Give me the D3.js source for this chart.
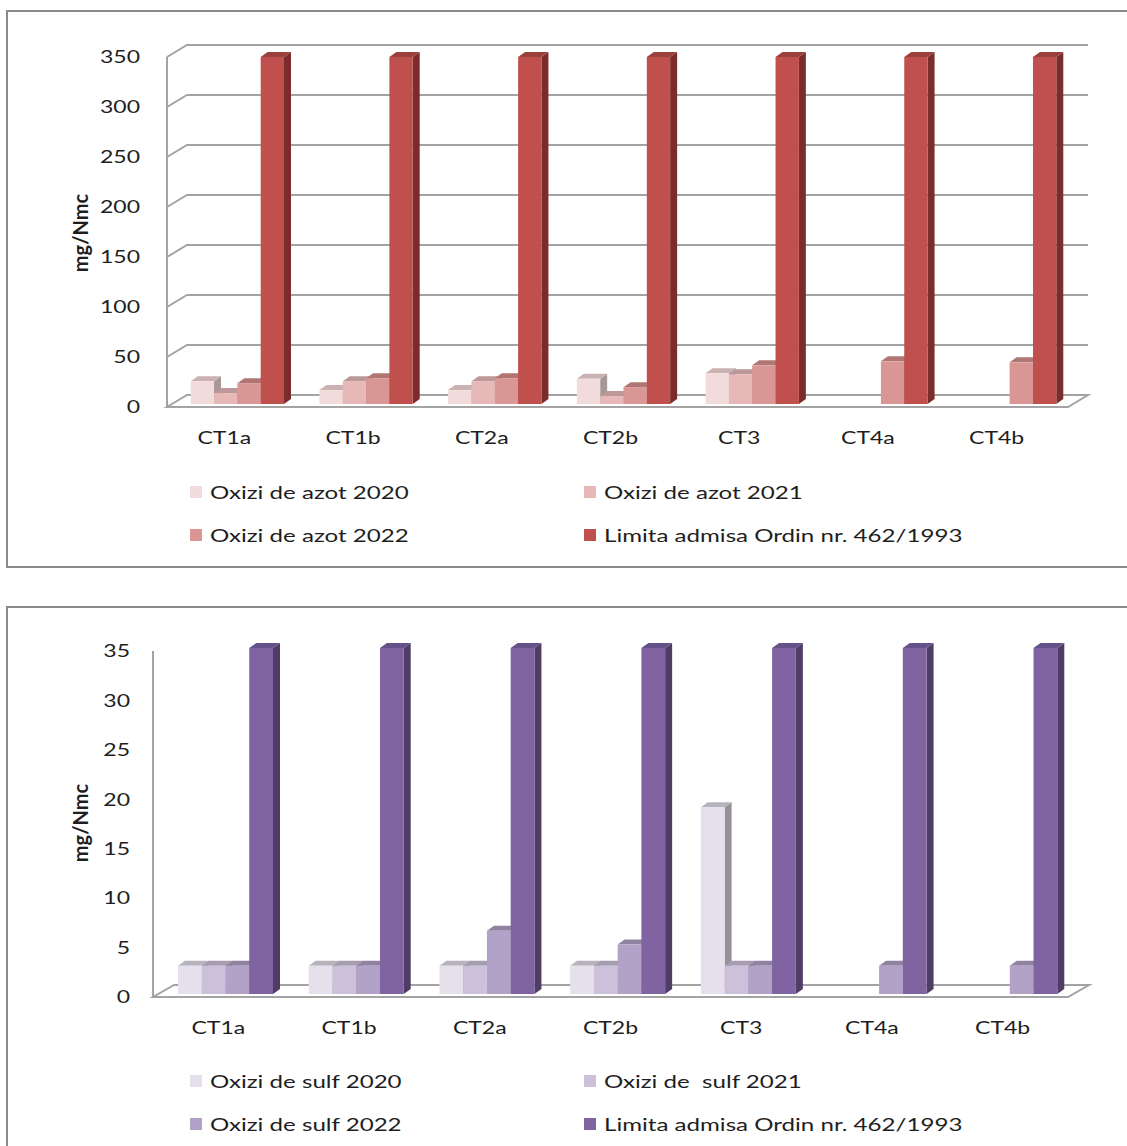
<!DOCTYPE html>
<html>
<head>
<meta charset="utf-8">
<script src="https://cdn.jsdelivr.net/npm/d3@7/dist/d3.min.js"></script>
<style>
html,body{margin:0;padding:0;background:#fff;}
svg{display:block;}
text{font-family:Lato,"Liberation Sans",sans-serif;fill:#1e1e1e;white-space:pre;}
</style>
</head>
<body>
<svg id="chart" width="1127" height="1146"></svg>
<script>
// ---------- data ----------
const categories = ["CT1a","CT1b","CT2a","CT2b","CT3","CT4a","CT4b"];

const noxSeries = ["Oxizi de azot 2020","Oxizi de azot 2021","Oxizi de azot 2022","Limita admisa Ordin nr. 462/1993"];
const nox2020 = [23, 14, 14, 25.5, 31, null, null];
const nox2021 = [11, 23, 23, 8, 30, null, null];
const nox2022 = [21, 26, 26, 17, 39, 43, 42];
const noxLimit = [350, 350, 350, 350, 350, 350, 350];
const noxTicks = [0, 50, 100, 150, 200, 250, 300, 350];

const soxSeries = ["Oxizi de sulf 2020","Oxizi de  sulf 2021","Oxizi de sulf 2022","Limita admisa Ordin nr. 462/1993"];
const sox2020 = [2.86, 2.86, 2.86, 2.86, 18.9, null, null];
const sox2021 = [2.86, 2.86, 2.86, 2.86, 2.86, null, null];
const sox2022 = [2.86, 2.86, 6.4, 5.0, 2.86, 2.86, 2.86];
const soxLimit = [35, 35, 35, 35, 35, 35, 35];
const soxTicks = [0, 5, 10, 15, 20, 25, 30, 35];

const yTitle = "mg/Nmc";

// ---------- style ----------
const SX = 1.28;      // horizontal stretch of axis text
const SX_LEG = 1.34;  // horizontal stretch of legend text
const noxColors = [
  {front:"#f2dcdb", top:"#c9b2b1", side:"#a69897"},
  {front:"#e6b9b8", top:"#bc9998", side:"#9f8584"},
  {front:"#d99694", top:"#b07674", side:"#93615f"},
  {front:"#c0504d", top:"#9c403d", side:"#7a2d2b"}
];
const soxColors = [
  {front:"#e5e0ec", top:"#b7b3bd", side:"#959199"},
  {front:"#ccc1da", top:"#a59cb0", side:"#8a8393"},
  {front:"#b3a2c7", top:"#9083a1", side:"#796d88"},
  {front:"#8064a2", top:"#67518a", side:"#4f3d66"}
];

const svg = d3.select("#chart");

function drawChart(cfg) {
  const g = svg.append("g");
  g.append("rect").attr("x", cfg.frame[0]).attr("y", cfg.frame[1])
    .attr("width", cfg.frame[2]).attr("height", cfg.frame[3])
    .attr("fill", "none").attr("stroke", "#8a8a8a").attr("stroke-width", 2);

  const maxV = d3.max(cfg.ticks);
  const yFront = d3.scaleLinear().domain([0, maxV]).range(cfg.yFront);
  const yBar = d3.scaleLinear().domain([0, maxV]).range(cfg.yBar);
  const xBand = d3.scaleBand().domain(categories).range([cfg.x0, cfg.x1]).paddingInner(0).paddingOuter(0);
  const xSeries = d3.scaleBand().domain(d3.range(cfg.series.length)).range(cfg.groupRange);
  const [dx, dy] = cfg.depth;
  const lineCol = "#a3a3a3";

  if (cfg.grid) {
    cfg.ticks.forEach(t => {
      if (t === 0) return;
      const yf = yFront(t);
      g.append("polyline")
        .attr("points", `${cfg.x0},${yf} ${cfg.x0+dx},${yf+dy} ${cfg.x1+dx},${yf+dy}`)
        .attr("fill", "none").attr("stroke", lineCol).attr("stroke-width", 2);
    });
  }
  g.append("line").attr("x1", cfg.x0).attr("x2", cfg.x0)
    .attr("y1", yFront(maxV)).attr("y2", yFront(0))
    .attr("stroke", lineCol).attr("stroke-width", 2);
  const y0 = yFront(0);
  g.append("polygon")
    .attr("points", `${cfg.x0},${y0} ${cfg.x0+dx},${y0+dy} ${cfg.x1+dx},${y0+dy} ${cfg.x1},${y0}`)
    .attr("fill", "#fff").attr("stroke", lineCol).attr("stroke-width", 2);

  const [bdx, bdy] = cfg.barDepth;
  const yb0 = yBar(0);
  categories.forEach((c, ci) => {
    cfg.values.forEach((vals, si) => {
      const v = vals[ci];
      if (v == null) return;
      const xl = xBand(c) + xSeries(si);
      const xr = xl + xSeries.bandwidth();
      const yt = yBar(v);
      const col = cfg.colors[si];
      g.append("polygon")
        .attr("points", `${xr},${yt} ${xr+bdx},${yt+bdy} ${xr+bdx},${yb0+bdy} ${xr},${yb0}`)
        .attr("fill", col.side);
      g.append("polygon")
        .attr("points", `${xl},${yt} ${xl+bdx},${yt+bdy} ${xr+bdx},${yt+bdy} ${xr},${yt}`)
        .attr("fill", col.top);
      g.append("rect").attr("x", xl).attr("y", yt)
        .attr("width", xr - xl).attr("height", yb0 - yt)
        .attr("fill", col.front);
    });
  });

  const yAxis = d3.axisLeft(yFront).tickValues(cfg.ticks).tickSize(0).tickPadding(0);
  const ya = g.append("g").attr("transform", `translate(${cfg.yLabelX},0)`).call(yAxis);
  ya.select(".domain").remove();
  ya.selectAll("text").attr("x", 0).attr("transform", `scale(${SX},1)`)
    .style("font-family", "Lato").style("font-size", "18px").attr("fill", "#1e1e1e");

  const xAxis = d3.axisBottom(xBand).tickSize(0).tickPadding(0);
  const xa = g.append("g").attr("transform", `translate(${cfg.xLabelDx},${cfg.xLabelY})`).call(xAxis);
  xa.select(".domain").remove();
  xa.selectAll("text").attr("y", 0).attr("dy", "0.35em").attr("transform", `scale(${SX},1)`)
    .style("font-family", "Lato").style("font-size", "18px").attr("fill", "#1e1e1e");

  g.append("text")
    .attr("transform", `translate(${cfg.titlePos[0]},${cfg.titlePos[1]}) rotate(-90)`)
    .attr("text-anchor", "middle").attr("dominant-baseline", "central")
    .style("font-size", "20px").style("font-weight", "bold")
    .text(yTitle);

  cfg.series.forEach((s, i) => {
    const col = i % 2, row = Math.floor(i / 2);
    const lx = cfg.legendX[col], ly = cfg.legendY[row];
    g.append("rect").attr("x", lx).attr("y", ly - 6).attr("width", 12).attr("height", 12)
      .attr("fill", cfg.colors[i].front);
    g.append("g").attr("transform", `translate(${lx + 20},${ly}) scale(${SX_LEG},1)`)
      .append("text").attr("dominant-baseline", "central")
      .style("font-size", "18px").text(s);
  });
}

drawChart({
  frame: [7, 11, 1125, 556],
  ticks: noxTicks,
  series: noxSeries,
  values: [nox2020, nox2021, nox2022, noxLimit],
  colors: noxColors,
  grid: true,
  x0: 167, x1: 1068,
  yFront: [407, 57],
  yBar: [404, 57],
  depth: [20, -12],
  barDepth: [7, -5],
  groupRange: [23.7, 117],
  yLabelX: 140,
  xLabelY: 438, xLabelDx: -7,
  titlePos: [80, 233],
  legendX: [190, 584], legendY: [492, 535]
});

drawChart({
  frame: [7, 607, 1125, 560],
  ticks: soxTicks,
  series: soxSeries,
  values: [sox2020, sox2021, sox2022, soxLimit],
  colors: soxColors,
  grid: false,
  x0: 153, x1: 1068,
  yFront: [997, 651],
  yBar: [994, 648],
  depth: [21, -12],
  barDepth: [7, -5],
  groupRange: [25, 120],
  yLabelX: 130,
  xLabelY: 1028, xLabelDx: 0,
  titlePos: [80, 823],
  legendX: [190, 584], legendY: [1081, 1124]
});
</script>
</body>
</html>
